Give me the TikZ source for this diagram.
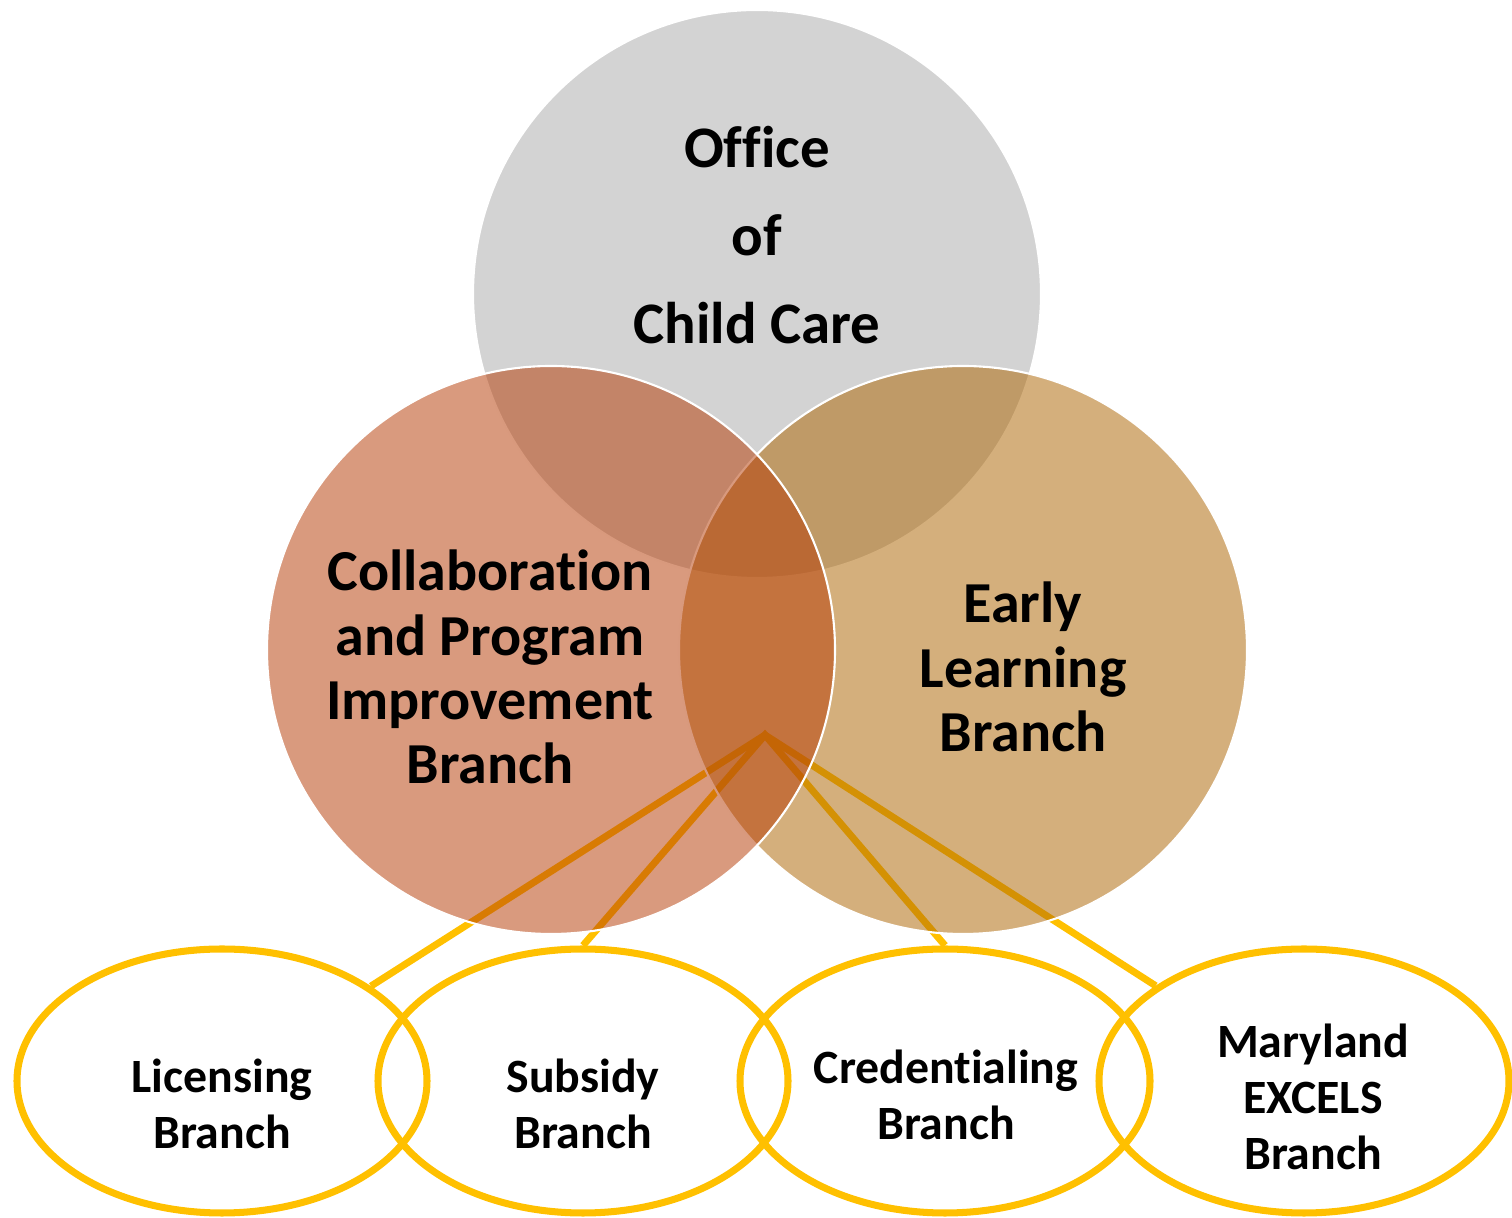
\documentclass[tikz,border=0pt]{standalone}
\usepackage{fontspec}
\setmainfont{Carlito}[Ligatures=NoCommon]
\usepackage{xcolor}
\usetikzlibrary{shapes.geometric,positioning}

\definecolor{officegray}{HTML}{D3D3D3}
\definecolor{cpirust}{RGB}{182,61,7}
\definecolor{elbochre}{RGB}{174,104,8}
\definecolor{branchgold}{HTML}{FFC000}

\tikzset{
    bigcircle/.style={circle, draw=white, line width=1.2pt, minimum size=11.36cm, inner sep=0pt},
    branchring/.style={ellipse, draw=branchgold, line width=4pt, minimum width=8.2cm, minimum height=5.28cm, inner sep=0pt},
    link/.style={draw=branchgold, line width=4pt},
    bigtext/.style={align=center, font=\bfseries\fontsize{33.5}{50}\selectfont},
    midtext/.style={align=center, font=\bfseries\fontsize{33}{36.5}\selectfont},
    smalltext/.style={align=center, font=\bfseries\fontsize{27.2}{32}\selectfont}
}

\begin{document}
\begin{tikzpicture}
    \useasboundingbox (0,0) rectangle (30.24,24.36);

    % Branch rings
    \node[branchring] (lic) at (4.44,2.74) {};
    \node[branchring] (sub) at (11.66,2.74) {};
    \node[branchring] (cre) at (18.90,2.74) {};
    \node[branchring] (mar) at (26.08,2.74) {};

    % Links from the centre
    \coordinate (hub) at (15.30,9.66);
    \draw[link] (lic) -- (hub) -- (mar);
    \draw[link] (sub.north) -- (hub) -- (cre.north);

    % Circles
    \node[bigcircle, fill=officegray] (occ) at (15.14,18.48) {};
    \node[bigcircle, fill=elbochre, fill opacity=0.53] (elb) at (19.26,11.36) {};
    \node[bigcircle, fill=cpirust, fill opacity=0.52] (cpi) at (11.02,11.36) {};

    % Labels
    \node[bigtext] (occtxt) at (15.14,19.66) {Office\\of\\Child Care};
    \node[midtext] (cpitxt) at (9.80,11.02) {Collaboration\\and Program\\Improvement\\Branch};
    \node[midtext] (elbtxt) at (20.46,11.02) {Early\\Learning\\Branch};
    \node[smalltext] (lictxt) at (4.44,2.28) {Licensing\\Branch};
    \node[smalltext] (subtxt) at (11.66,2.28) {Subsidy\\Branch};
    \node[smalltext] (cretxt) at (18.92,2.46) {Credentialing\\Branch};
    \node[smalltext] (martxt) at (26.26,2.42) {Maryland\\EXCELS\\Branch};
\end{tikzpicture}
\end{document}
